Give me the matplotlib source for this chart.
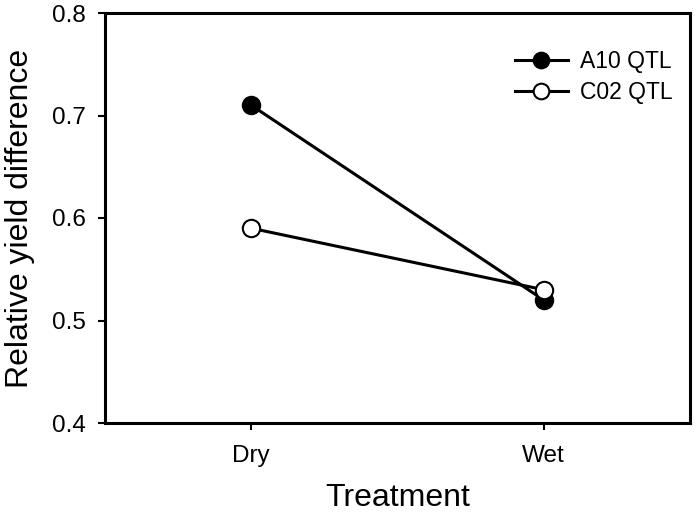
import matplotlib.pyplot as plt

treatments = ['Dry', 'Wet']
a10_qtl = [0.71, 0.52]
c02_qtl = [0.59, 0.53]
y_ticks = [0.4, 0.5, 0.6, 0.7, 0.8]

plt.rcParams['font.family'] = ['Liberation Sans', 'DejaVu Sans']

fig = plt.figure(figsize=(6.97, 5.12), dpi=100)
ax = fig.add_axes([105 / 697, 1 - 423 / 512, 585 / 697, 410 / 512])

x = list(range(len(treatments)))
ax.plot(x, a10_qtl, color='black', lw=2.2, marker='o', ms=12.5,
        mfc='black', mec='black', mew=1.5, label='A10 QTL', zorder=3)
ax.plot(x, c02_qtl, color='black', lw=2.2, marker='o', ms=12.5,
        mfc='white', mec='black', mew=1.5, label='C02 QTL', zorder=3)

ax.set_xlim(-0.5, 1.5)
ax.set_ylim(0.4, 0.8)
ax.set_xticks(x)
ax.set_xticklabels(treatments)
ax.set_yticks(y_ticks)
ax.set_yticklabels([f'{v:.1f}' for v in y_ticks])
ax.tick_params(direction='out', length=5, width=1.5, labelsize=17.5)
ax.tick_params(axis='x', pad=11)
ax.tick_params(axis='y', pad=9)
for s in ax.spines.values():
    s.set_linewidth(2.2)

ax.set_xlabel('Treatment', fontsize=23, labelpad=11)
ax.set_ylabel('Relative yield difference', fontsize=23, labelpad=12)

ax.legend(loc='upper right', bbox_to_anchor=(0.971, 0.91), frameon=False,
          fontsize=16.5, handlelength=2.3, handletextpad=0.55,
          borderaxespad=0, borderpad=0, labelspacing=0.35, markerscale=0.9)

fig.savefig('out.png', dpi=100)
